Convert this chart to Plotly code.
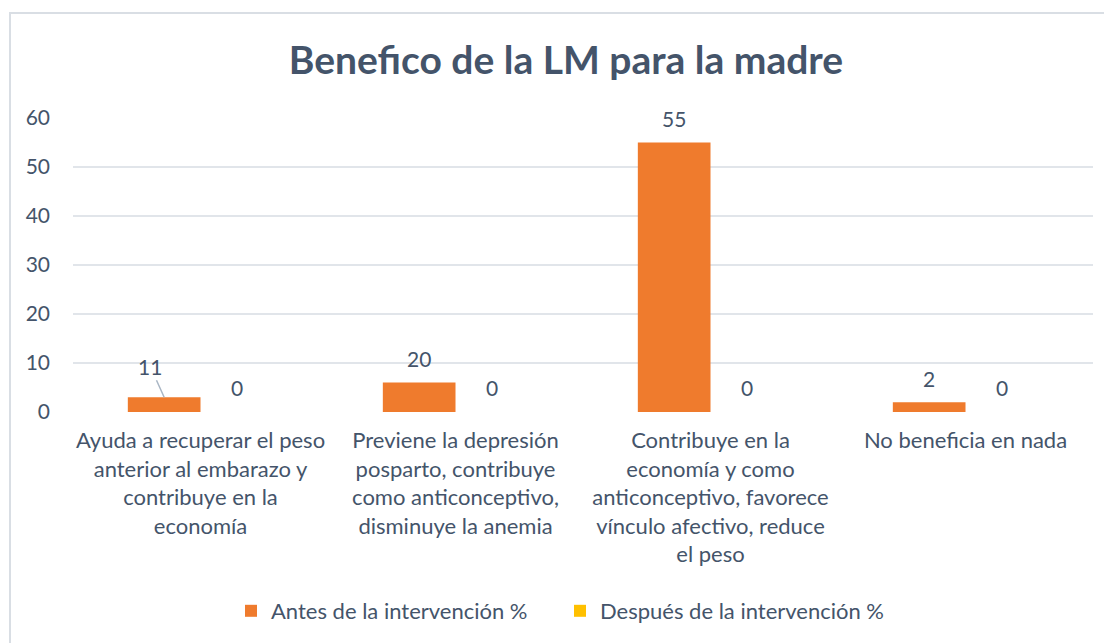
import plotly.graph_objects as go

categories = [
    "Ayuda a recuperar el peso<br>anterior al embarazo y<br>contribuye en la<br>economía",
    "Previene la depresión<br>posparto, contribuye<br>como anticonceptivo,<br>disminuye la anemia",
    "Contribuye en la<br>economía y como<br>anticonceptivo, favorece<br>vínculo afectivo, reduce<br>el peso",
    "No beneficia en nada",
]
antes_values = [3, 6, 55, 2]
antes_labels = ["11", "20", "55", "2"]
despues_values = [0, 0, 0, 0]
despues_labels = ["0", "0", "0", "0"]
series_names = ["Antes de la intervención %", "Después de la intervención %"]
y_ticks = [0, 10, 20, 30, 40, 50, 60]

FONT = "Lato"
TXT = "#44546A"
OFF = 8  # page body margin
W, H = 1112 - OFF, 643 - OFF
L, R, T, B = 73 - OFF, 19, 118 - OFF, 231

fig = go.Figure()
fig.add_trace(go.Bar(x=categories, y=antes_values, name=series_names[0],
                     marker=dict(color="#EF7B2D", line=dict(width=0))))
fig.add_trace(go.Bar(x=categories, y=despues_values, name=series_names[1],
                     marker=dict(color="#FFC000", line=dict(width=0))))

plot_w = W - L - R
plot_h = H - T - B
cat_w = plot_w / len(categories)
bargap = 0.43
bar_w = cat_w * (1 - bargap) / 2
off = bar_w / 2

lab_font = dict(family=FONT, size=21, color=TXT)
annotations = []
for i, c in enumerate(categories):
    if i == 0:
        annotations.append(dict(x=c, y=antes_values[i], xref="x", yref="y",
                                text=antes_labels[i], xshift=-off, showarrow=True,
                                arrowhead=0, arrowwidth=1.5, arrowcolor="#A9B6C4",
                                ax=-14, ay=-31, font=lab_font))
    else:
        annotations.append(dict(x=c, y=antes_values[i], xref="x", yref="y",
                                text=antes_labels[i], xshift=-off, yshift=24, showarrow=False,
                                font=lab_font))
    annotations.append(dict(x=c, y=despues_values[i], xref="x", yref="y",
                            text=despues_labels[i], xshift=off, yshift=25, showarrow=False,
                            font=lab_font))

fig.update_layout(
    width=W, height=H,
    margin=dict(l=L, r=R, t=T, b=B, pad=0),
    paper_bgcolor="white", plot_bgcolor="white",
    barmode="group", bargap=bargap, bargroupgap=0,
    title=dict(text="<b>Benefico de la LM para la madre</b>", x=(566 - OFF) / W, xref="container",
               xanchor="center", y=1 - (60 - OFF) / H, yref="container", yanchor="middle",
               font=dict(family=FONT, size=39, color=TXT)),
    font=dict(family=FONT, color=TXT),
    showlegend=True,
    legend=dict(orientation="h", xref="container", yref="container",
                x=(560 - OFF) / W, xanchor="center", y=1 - (611 - OFF) / H, yanchor="middle",
                font=dict(family=FONT, size=22, color=TXT), traceorder="normal",
                itemwidth=30, entrywidth=284, bgcolor="rgba(0,0,0,0)"),
    annotations=annotations,
    shapes=[dict(type="rect", xref="paper", yref="paper",
                 x0=(10 - OFF - L) / plot_w, x1=1.2,
                 y0=-2.0, y1=(H - B - (13 - OFF)) / plot_h,
                 line=dict(color="#D9DEE4", width=2), fillcolor="rgba(0,0,0,0)", layer="below")],
)
fig.update_xaxes(showgrid=False, showline=False, ticks="", zeroline=False,
                 tickfont=dict(family=FONT, size=22, color=TXT), ticklabelstandoff=13)
fig.update_yaxes(range=[0, 60], tickvals=y_ticks, showgrid=True, gridcolor="#E1E5EA",
                 gridwidth=1.5, zeroline=False, showline=False, ticks="",
                 tickfont=dict(family=FONT, size=21, color=TXT), ticklabelstandoff=22)

fig.write_html("out.html")
